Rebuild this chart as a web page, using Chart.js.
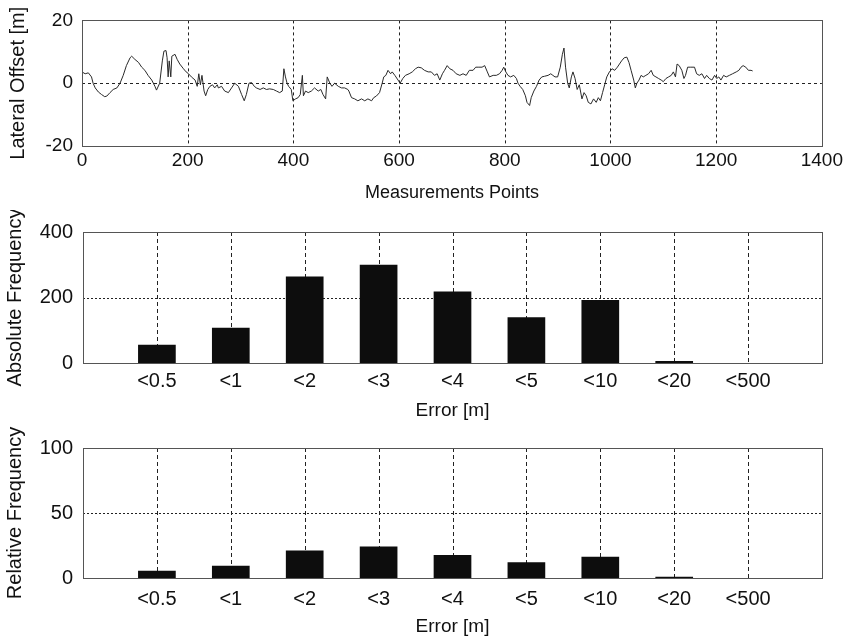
<!DOCTYPE html>
<html><head><meta charset="utf-8">
<script src="https://cdn.jsdelivr.net/npm/chart.js@4.4.0/dist/chart.umd.min.js"></script>
<style>
html,body{margin:0;padding:0;background:#fff;}
#wrap{position:relative;width:846px;height:636px;overflow:hidden;}
canvas{position:absolute;left:0;display:block;}
</style></head><body>
<div id="wrap">
<canvas id="c1" width="846" height="205" style="top:0"></canvas>
<canvas id="c2" width="846" height="210" style="top:210px"></canvas>
<canvas id="c3" width="846" height="216" style="top:420px"></canvas>
</div>
<script>
// ---- Data ----
const measurementIdx = [0,6,12,18,21,25,31,37,43,47,53,59,66,72,78,84,91,94,100,107,113,119,125,132,138,141,147,152,155,159,161,163,165,168,170,176,180,185,192,197,201,207,214,218,221,224,227,231,234,238,242,247,251,256,
258,264,270,277,283,289,296,302,307,311,316,321,326,330,337,343,349,355,362,368,374,379,382,385,388,391,396,399,404,409,413,417,419,423,428,434,440,447,452,456,461,464,469,473,478,485,491,497,503,505,510,
516,522,529,535,541,548,552,557,563,568,571,575,579,584,587,592,598,602,607,612,619,625,631,636,642,648,655,661,667,672,677,682,686,691,696,702,708,715,721,727,733,740,745,751,757,762,767,771,
778,784,790,795,798,802,806,811,817,822,825,829,834,839,842,847,850,855,860,865,870,875,882,887,891,895,900,905,909,912,915,919,922,926,929,933,937,941,946,950,954,958,963,968,973,977,981,985,989,993,998,1003,1008,1013,1017,1021,
1026,1031,1035,1039,1044,1047,1050,1054,1058,1062,1067,1072,1077,1081,1086,1091,1096,1100,1105,1110,1115,1119,1123,1126,1130,1135,1139,1142,1146,1152,1159,1163,1168,1173,1178,1182,1187,1192,1197,1201,1205,1209,1214,1219,1225,1231,1238,1243,1247,1251,1256,1261,1266,1269];
const lateralOffset = [3.6,3.0,3.3,2,0,-1.5,-2.8,-3.6,-4.3,-4.1,-3,-2,-1.5,0,2.5,5.6,8.1,8.6,7.6,6.6,5.1,4.1,2.5,1,-1,-2.2,0,7.1,10.2,10.4,8.1,2,7.1,2,8.6,9.2,7.6,6.1,4.6,3.6,3.1,2,1,-1,3,-0.5,2.5,-2.5,-4,-2,-1,-0.5,-1.5,-0.5,
-1.5,-1,-2.5,-3,-1.5,0,-1,-3.6,-5.6,-3.6,0,0.2,-1,-1.5,-2,-1.5,-2,-1.8,-2,-2.5,-3,-2.5,4.6,2,0,-1,-2,-5.6,-5,-4.6,-3.6,2.5,-4,-2.5,-3,-2.5,-1.5,-2.5,-2,-3.6,-5,2,0,-1,0,-1,-1.5,-1.5,-2,-2.5,-4.6,
-5,-5.6,-5,-5.6,-5,-5.6,-4.6,-4.1,-3,0,2,2.5,4.1,3,3.6,2.5,1,0,1.5,2.5,3,3.6,4.6,5.1,4.9,4.1,3.6,3.6,2.5,3,1,3,4.1,5.6,4.6,4.1,3,2.5,3,2.5,4.1,4.1,5.1,5.1,5.1,5.6,3.6,2,
2.5,2.5,3,4.1,5.1,3.6,2.5,2,2.5,1.5,0,-1,-2,-4,-6.1,-7.1,-4.6,-2.5,-1,1,2,2.2,2.5,3,2.5,2,2,5.1,9.2,11.2,5.1,0,-1.5,2,3.6,1.5,-2,-0.5,-5,-3,-4,-6.1,-6.6,-5,-6.1,-4.6,-5.6,-3,-0.5,2,3.6,4.6,4.1,5.1,6.1,7.1,
8.1,8.3,6.6,4.1,1,-1.5,0,1,2.5,2,2.5,3,4.1,2.5,2,1.5,1,0.5,1.5,2,2.5,3.6,2,6.1,5.6,4.1,1.5,2.5,5.1,5.1,5.1,3,2.5,3,1.5,2.5,1.5,1,2.5,1.5,2,1,2.5,2,2.5,3,3.6,4.1,5.1,5.6,5.1,4.1,4.1,3.9];

const binPositions = [1,2,3,4,5,6,7,8,9];
const binLabels = ['<0.5','<1','<2','<3','<4','<5','<10','<20','<500'];
const absoluteFrequency = [56,108,264,300,218,140,192,6,0];
const relativeFrequency = [5.5,9.4,21.2,24.2,17.6,12.2,16.3,1,0];

const topXTicks = [0,200,400,600,800,1000,1200,1400];
const topYTicks = [-20,0,20];
const absYTicks = [0,200,400];
const relYTicks = [0,50,100];

// ---- Styling ----
const FONT = "'Liberation Sans', Arial, sans-serif";
const TXT = '#111';

const framePlugin = {
  id: 'frame',
  beforeDatasetsDraw(chart, args, o) {
    const {ctx, chartArea: a, scales: {x, y}} = chart;
    ctx.save();
    ctx.strokeStyle = '#222';
    ctx.lineWidth = 1;
    ctx.setLineDash(o.vDash);
    o.vGrid.forEach(v => {
      const px = Math.round(x.getPixelForValue(v)) + 0.5;
      ctx.beginPath(); ctx.moveTo(px, a.top); ctx.lineTo(px, a.bottom); ctx.stroke();
    });
    ctx.setLineDash(o.hDash);
    o.hGrid.forEach(v => {
      const py = Math.round(y.getPixelForValue(v)) + 0.5;
      ctx.beginPath(); ctx.moveTo(a.left, py); ctx.lineTo(a.right, py); ctx.stroke();
    });
    ctx.restore();
  },
  afterDatasetsDraw(chart) {
    const {ctx, chartArea: a} = chart;
    ctx.save();
    ctx.strokeStyle = '#555';
    ctx.lineWidth = 1;
    ctx.setLineDash([]);
    ctx.strokeRect(Math.round(a.left) + 0.5, Math.round(a.top) + 0.5, Math.round(a.right - a.left), Math.round(a.bottom - a.top));
    ctx.restore();
  }
};

function axisCommon(extra) {
  return Object.assign({
    grid: {display: false, drawTicks: false},
    border: {display: false},
  }, extra);
}

// ---- Chart 1: lateral offset ----
new Chart(document.getElementById('c1'), {
  type: 'line',
  data: {datasets: [{
    data: measurementIdx.map((m, i) => ({x: m, y: lateralOffset[i]})),
    borderColor: '#2a2a2a', borderWidth: 1, pointRadius: 0, tension: 0, fill: false
  }]},
  plugins: [framePlugin],
  options: {
    responsive: false, animation: false, events: [],
    layout: {padding: {top: 15, right: 23, left: 0, bottom: 0}},
    plugins: {legend: {display: false}, tooltip: {enabled: false},
      frame: {vGrid: [200,400,600,800,1000,1200], hGrid: [0], vDash: [3,3], hDash: [3,3]}},
    scales: {
      x: axisCommon({type: 'linear', min: 0, max: 1400,
        afterBuildTicks: s => { s.ticks = topXTicks.map(v => ({value: v})); },
        ticks: {font: {family: FONT, size: 19}, color: TXT, padding: 3, maxRotation: 0, autoSkip: false,
          callback: v => String(v)},
        title: {display: true, text: 'Measurements Points', color: TXT, font: {family: FONT, size: 18, lineHeight: 1}, padding: {top: 3, bottom: 3}},
        afterFit: s => { s.height = 59; }}),
      y: axisCommon({min: -20, max: 20,
        afterBuildTicks: s => { s.ticks = topYTicks.map(v => ({value: v})); },
        ticks: {font: {family: FONT, size: 19}, color: TXT, padding: 9, callback: v => String(v)},
        title: {display: true, text: 'Lateral Offset [m]', color: TXT, font: {family: FONT, size: 20, lineHeight: 1}, padding: {top: 8, bottom: 8}},
        afterFit: s => { s.width = 82; }})
    }
  }
});

// ---- Bar charts ----
function barChart(id, values, yTicks, yMax, yTitle, hLine, padTop, xH, tickPad) {
  return new Chart(document.getElementById(id), {
    type: 'bar',
    data: {datasets: [{
      data: binPositions.map((p, i) => ({x: p, y: values[i]})),
      backgroundColor: '#0d0d0d', borderWidth: 0,
      barPercentage: 0.51, categoryPercentage: 1.0
    }]},
    plugins: [framePlugin],
    options: {
      responsive: false, animation: false, events: [],
      layout: {padding: {top: padTop, right: 24, left: 0, bottom: 0}},
      plugins: {legend: {display: false}, tooltip: {enabled: false},
        frame: {vGrid: binPositions, hGrid: [hLine], vDash: [4,3], hDash: [2,2]}},
      scales: {
        x: axisCommon({type: 'linear', min: 0, max: 10, offset: false,
          afterBuildTicks: s => { s.ticks = [0].concat(binPositions, [10]).map(v => ({value: v})); },
          ticks: {font: {family: FONT, size: 20}, color: TXT, padding: tickPad, maxRotation: 0, autoSkip: false,
            callback: v => binLabels[Math.round(v) - 1] || ''},
          title: {display: true, text: 'Error [m]', color: TXT, font: {family: FONT, size: 19, lineHeight: 1}, padding: {top: 0, bottom: 0}},
          afterFit: s => { s.height = xH; }}),
        y: axisCommon({min: 0, max: yMax,
          afterBuildTicks: s => { s.ticks = yTicks.map(v => ({value: v})); },
          ticks: {font: {family: FONT, size: 20}, color: TXT, padding: 10, callback: v => String(v)},
          title: {display: true, text: yTitle, color: TXT, font: {family: FONT, size: 20, lineHeight: 1}, padding: {top: 5, bottom: 5}},
          afterFit: s => { s.width = 83; }})
      }
    }
  });
}

barChart('c2', absoluteFrequency, absYTicks, 400, 'Absolute Frequency', 200, 21, 57, 6);
barChart('c3', relativeFrequency, relYTicks, 100, 'Relative Frequency', 50, 28, 58, 9);
</script>
</body></html>
